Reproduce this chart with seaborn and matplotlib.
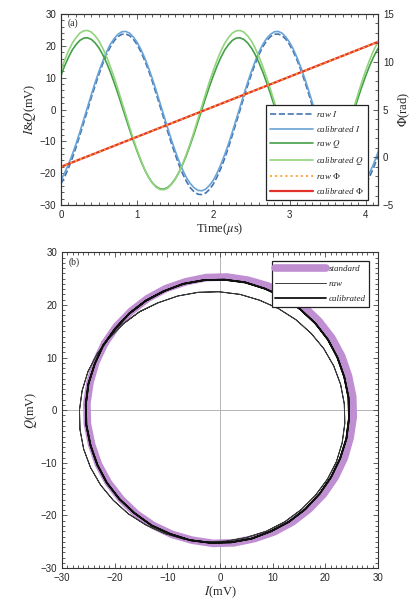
import matplotlib
matplotlib.use('Agg')
import matplotlib.pyplot as plt
import seaborn as sns
from matplotlib.ticker import MultipleLocator

# sample times (us)
time_us = [0.00, 0.05, 0.10, 0.15, 0.20, 0.25, 0.30, 0.35, 0.40, 0.45,
           0.50, 0.55, 0.60, 0.65, 0.70, 0.75, 0.80, 0.85, 0.90, 0.95,
           1.00, 1.05, 1.10, 1.15, 1.20, 1.25, 1.30, 1.35, 1.40, 1.45,
           1.50, 1.55, 1.60, 1.65, 1.70, 1.75, 1.80, 1.85, 1.90, 1.95,
           2.00, 2.05, 2.10, 2.15, 2.20, 2.25, 2.30, 2.35, 2.40, 2.45,
           2.50, 2.55, 2.60, 2.65, 2.70, 2.75, 2.80, 2.85, 2.90, 2.95,
           3.00, 3.05, 3.10, 3.15, 3.20, 3.25, 3.30, 3.35, 3.40, 3.45,
           3.50, 3.55, 3.60, 3.65, 3.70, 3.75, 3.80, 3.85, 3.90, 3.95,
           4.00, 4.05, 4.10, 4.15, 4.20]

# I and Q traces in mV
raw_I = [-23.4, -21.1, -18.4, -15.3, -11.8, -8.0, -4.1, -0.2, 3.8, 7.5,
         11.1, 14.4, 17.3, 19.7, 21.6, 22.9, 23.6, 23.7, 23.2, 22.1,
         20.4, 18.1, 15.4, 12.3, 8.8, 5.0, 1.1, -2.8, -6.8, -10.6,
         -14.1, -17.4, -20.3, -22.7, -24.6, -25.9, -26.6, -26.7, -26.2, -25.1,
         -23.4, -21.1, -18.4, -15.3, -11.8, -8.0, -4.1, -0.2, 3.8, 7.5,
         11.1, 14.4, 17.3, 19.7, 21.6, 22.9, 23.6, 23.7, 23.2, 22.1,
         20.4, 18.1, 15.4, 12.3, 8.8, 5.0, 1.1, -2.8, -6.8, -10.6,
         -14.1, -17.4, -20.3, -22.7, -24.6, -25.9, -26.6, -26.7, -26.2, -25.1,
         -23.4, -21.1, -18.4, -15.3, -11.8]
cal_I = [-22.2, -19.9, -17.2, -14.1, -10.7, -7.0, -3.1, 0.8, 4.7, 8.5,
         12.0, 15.2, 18.1, 20.5, 22.3, 23.6, 24.4, 24.5, 24.0, 22.8,
         21.1, 18.9, 16.2, 13.1, 9.7, 6.0, 2.1, -1.8, -5.7, -9.5,
         -13.0, -16.2, -19.1, -21.5, -23.3, -24.6, -25.4, -25.5, -25.0, -23.8,
         -22.2, -19.9, -17.2, -14.1, -10.7, -7.0, -3.1, 0.8, 4.7, 8.5,
         12.0, 15.2, 18.1, 20.5, 22.3, 23.6, 24.4, 24.5, 24.0, 22.8,
         21.1, 18.9, 16.2, 13.1, 9.7, 6.0, 2.1, -1.8, -5.7, -9.5,
         -13.0, -16.2, -19.1, -21.5, -23.3, -24.6, -25.4, -25.5, -25.0, -23.8,
         -22.2, -19.9, -17.2, -14.1, -10.7]
raw_Q = [10.6, 13.7, 16.4, 18.7, 20.4, 21.7, 22.4, 22.5, 22.0, 20.9,
         19.3, 17.2, 14.6, 11.7, 8.4, 4.9, 1.2, -2.5, -6.2, -9.8,
         -13.1, -16.2, -18.9, -21.2, -23.0, -24.2, -24.9, -25.0, -24.5, -23.4,
         -21.8, -19.7, -17.1, -14.2, -10.9, -7.4, -3.7, 0.0, 3.7, 7.3,
         10.6, 13.7, 16.4, 18.7, 20.4, 21.7, 22.4, 22.5, 22.0, 20.9,
         19.3, 17.2, 14.6, 11.7, 8.4, 4.9, 1.2, -2.5, -6.2, -9.8,
         -13.1, -16.2, -18.9, -21.2, -23.0, -24.2, -24.9, -25.0, -24.5, -23.4,
         -21.8, -19.7, -17.1, -14.2, -10.9, -7.4, -3.7, 0.0, 3.7, 7.3,
         10.6, 13.7, 16.4, 18.7, 20.4]
cal_Q = [12.3, 15.5, 18.4, 20.8, 22.6, 24.0, 24.7, 24.8, 24.3, 23.1,
         21.5, 19.2, 16.5, 13.4, 10.0, 6.3, 2.4, -1.5, -5.4, -9.2,
         -12.7, -15.9, -18.8, -21.2, -23.0, -24.4, -25.1, -25.2, -24.7, -23.5,
         -21.9, -19.6, -16.9, -13.8, -10.4, -6.7, -2.8, 1.1, 5.0, 8.8,
         12.3, 15.5, 18.4, 20.8, 22.6, 24.0, 24.7, 24.8, 24.3, 23.1,
         21.5, 19.2, 16.5, 13.4, 10.0, 6.3, 2.4, -1.5, -5.4, -9.2,
         -12.7, -15.9, -18.8, -21.2, -23.0, -24.4, -25.1, -25.2, -24.7, -23.5,
         -21.9, -19.6, -16.9, -13.8, -10.4, -6.7, -2.8, 1.1, 5.0, 8.8,
         12.3, 15.5, 18.4, 20.8, 22.6]

# phase (rad), a straight ramp
phi_time = [0.0, 4.2]
raw_phi = [-1.0, 12.2]
cal_phi = [-1.0, 12.2]

# ideal reference circle in the IQ plane
std_I = [-21.9, -19.7, -16.9, -13.8, -10.3, -6.5, -2.6, 1.3, 5.3, 9.1,
         12.7, 15.9, 18.8, 21.2, 23.1, 24.4, 25.2, 25.3, 24.7, 23.6,
         21.9, 19.7, 16.9, 13.8, 10.3, 6.5, 2.6, -1.3, -5.3, -9.1,
         -12.7, -15.9, -18.8, -21.2, -23.1, -24.4, -25.2, -25.3, -24.7, -23.6,
         -21.9]
std_Q = [12.7, 15.9, 18.8, 21.2, 23.1, 24.4, 25.2, 25.3, 24.7, 23.6,
         21.9, 19.7, 16.9, 13.8, 10.3, 6.5, 2.6, -1.3, -5.3, -9.1,
         -12.7, -15.9, -18.8, -21.2, -23.1, -24.4, -25.2, -25.3, -24.7, -23.6,
         -21.9, -19.7, -16.9, -13.8, -10.3, -6.5, -2.6, 1.3, 5.3, 9.1,
         12.7]

sns.set_theme(style='ticks')
plt.rcParams['font.family'] = ['Liberation Sans', 'DejaVu Sans']
plt.rcParams['mathtext.fontset'] = 'stix'

SERIF = 'Liberation Serif'
leg_font = {'family': SERIF, 'style': 'italic', 'size': 6.5}


def style_axis(ax, fs=7):
    ax.tick_params(which='both', direction='in', labelsize=fs, width=0.6, color='#444444')
    ax.tick_params(which='major', length=3.5)
    ax.tick_params(which='minor', length=2)
    for sp in ax.spines.values():
        sp.set_linewidth(0.8)
        sp.set_color('#333333')


fig = plt.figure(figsize=(4.14, 6.05), dpi=100)

# ---- (a) time traces ----
ax = fig.add_axes([0.147, 0.661, 0.766, 0.316])
ax2 = ax.twinx()

sns.lineplot(x=time_us, y=raw_I, ax=ax, color='#4574b0', lw=1.2, linestyle='--', label='raw I', sort=False)
sns.lineplot(x=time_us, y=cal_I, ax=ax, color='#69a3d6', lw=1.2, label='calibrated I', sort=False)
sns.lineplot(x=time_us, y=raw_Q, ax=ax, color='#43a047', lw=1.2, label='raw Q', sort=False)
sns.lineplot(x=time_us, y=cal_Q, ax=ax, color='#92d47e', lw=1.2, label='calibrated Q', sort=False)
sns.lineplot(x=phi_time, y=cal_phi, ax=ax2, color='#e2332b', lw=1.6, label='calibrated Φ', sort=False)
sns.lineplot(x=phi_time, y=raw_phi, ax=ax2, color='#ffa33a', lw=1.4, linestyle=':', label='raw Φ', sort=False)

ax.set_xlim(0, 4.16)
ax.set_ylim(-30, 30)
ax2.set_ylim(-5, 15)
ax.xaxis.set_major_locator(MultipleLocator(1))
ax.xaxis.set_minor_locator(MultipleLocator(0.1))
ax.yaxis.set_major_locator(MultipleLocator(10))
ax.yaxis.set_minor_locator(MultipleLocator(2))
ax2.yaxis.set_major_locator(MultipleLocator(5))
ax2.yaxis.set_minor_locator(MultipleLocator(1))
style_axis(ax)
style_axis(ax2)
ax.tick_params(which='both', top=True)
ax.set_xlabel('Time($\\mu$s)', family=SERIF, fontsize=9, labelpad=1)
ax.set_ylabel('$I$&$Q$(mV)', family=SERIF, fontsize=9, labelpad=1)
ax2.set_ylabel('$\\Phi$(rad)', family=SERIF, fontsize=9, labelpad=2)
ax.text(0.02, 0.975, '(a)', transform=ax.transAxes, ha='left', va='top', fontsize=7, family=SERIF)

h1, l1 = ax.get_legend_handles_labels()
h2, l2 = ax2.get_legend_handles_labels()
ax.get_legend().remove()
ax2.get_legend().remove()
handles = h1 + [h2[1], h2[0]]
labels = ['raw $I$', 'calibrated $I$', 'raw $Q$', 'calibrated $Q$', 'raw $\\Phi$', 'calibrated $\\Phi$']
leg = ax2.legend(handles, labels, loc='lower right', bbox_to_anchor=(0.97, 0.025), borderaxespad=0,
                 prop=leg_font, handlelength=4.8, labelspacing=0.5, fancybox=False,
                 framealpha=1, edgecolor='#222222', borderpad=0.5, handletextpad=0.3)
leg.get_frame().set_linewidth(0.9)

# ---- (b) IQ plane ----
bx = fig.add_axes([0.150, 0.061, 0.763, 0.522])
bx.axhline(0, color='#aaaaaa', lw=0.6, zorder=0)
bx.axvline(0, color='#aaaaaa', lw=0.6, zorder=0)
sns.lineplot(x=std_I, y=std_Q, ax=bx, color='#bf8fd2', lw=5.5, label='standard', sort=False, estimator=None)
sns.lineplot(x=raw_I, y=raw_Q, ax=bx, color='#3a3a3a', lw=0.7, label='raw', sort=False, estimator=None)
sns.lineplot(x=cal_I, y=cal_Q, ax=bx, color='#111111', lw=1.3, label='calibrated', sort=False, estimator=None)

bx.set_xlim(-30, 30)
bx.set_ylim(-30, 30)
for a in (bx.xaxis, bx.yaxis):
    a.set_major_locator(MultipleLocator(10))
    a.set_minor_locator(MultipleLocator(1))
style_axis(bx)
bx.tick_params(which='both', top=True, right=True)
bx.set_xlabel('$I$(mV)', family=SERIF, fontsize=9, labelpad=1)
bx.set_ylabel('$Q$(mV)', family=SERIF, fontsize=9, labelpad=1)
bx.text(0.02, 0.985, '(b)', transform=bx.transAxes, ha='left', va='top', fontsize=7, family=SERIF)
leg = bx.legend(loc='upper right', bbox_to_anchor=(0.972, 0.972), borderaxespad=0, prop=leg_font,
                handlelength=5.6, labelspacing=0.75, fancybox=False, framealpha=1,
                edgecolor='#222222', borderpad=0.4, handletextpad=0.3)
leg.get_frame().set_linewidth(0.9)

fig.savefig('out.png', dpi=100)
